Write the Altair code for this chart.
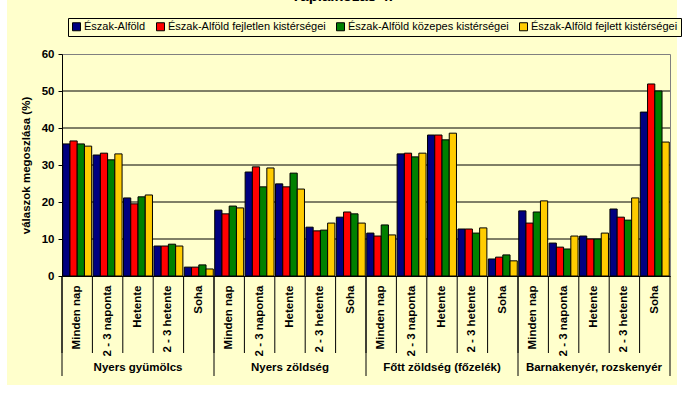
import altair as alt
import pandas as pd

groups = ["Nyers gyümölcs", "Nyers zöldség", "Főtt zöldség (főzelék)", "Barnakenyér, rozskenyér"]
freqs = ["Minden nap", "2 - 3 naponta", "Hetente", "2 - 3 hetente", "Soha"]
series = ["Észak-Alföld", "Észak-Alföld fejletlen kistérségei",
          "Észak-Alföld közepes kistérségei", "Észak-Alföld fejlett kistérségei"]
colors = ["#000080", "#FF0000", "#008000", "#FFCC00"]

blue = [35.7, 32.7, 21.1, 8.1, 2.4, 17.8, 28.1, 24.9, 13.2, 15.9,
        11.6, 33.0, 38.1, 12.7, 4.6, 17.6, 8.9, 10.8, 18.1, 44.3]
red = [36.5, 33.2, 19.5, 8.1, 2.4, 16.8, 29.5, 24.1, 12.2, 17.3,
       10.8, 33.2, 38.1, 12.7, 5.1, 14.3, 7.8, 10.0, 15.9, 51.9]
green = [35.7, 31.4, 21.4, 8.6, 3.0, 18.9, 24.1, 27.8, 12.4, 16.8,
         13.8, 32.2, 36.8, 11.6, 5.7, 17.3, 7.3, 10.0, 15.1, 50.0]
yellow = [35.1, 33.0, 21.9, 8.1, 1.9, 18.4, 29.2, 23.5, 14.3, 14.3,
          11.1, 33.2, 38.6, 13.0, 4.1, 20.3, 10.8, 11.6, 21.1, 36.2]

y_ticks = [0, 10, 20, 30, 40, 50, 60]
grid_vals = [10, 20, 30, 40, 50]
title_text = "Táplálkozás 4."
y_title = "válaszok megoszlása (%)"

FONT = "Liberation Sans"
BG = "#FFFFCC"
W, H = 608, 222

keys = [f"{gi}{fi}|{f}" for gi in range(len(groups)) for fi, f in enumerate(freqs)]
rows = []
for s, vals in zip(series, [blue, red, green, yellow]):
    for k, v in zip(keys, vals):
        rows.append({"key": k, "series": s, "value": v})
df = pd.DataFrame(rows)

one = pd.DataFrame({"a": [0]})

x_scale = alt.Scale(domain=keys, paddingInner=0, paddingOuter=0)
x_axis = alt.Axis(title=None, labelExpr="split(datum.label, '|')[1]",
                  labelAngle=270, labelAlign="right", labelBaseline="middle",
                  labelPadding=9, ticks=False, domainColor="black", zindex=1,
                  labelFont=FONT, labelFontSize=11.5, labelFontWeight="bold",
                  labelColor="black")
y_scale = alt.Scale(domain=[0, 60], nice=False)
y_axis = alt.Axis(values=y_ticks, title=y_title, grid=False, zindex=1,
                  domainColor="black", tickColor="black", tickSize=4,
                  labelPadding=4, labelFont=FONT, labelFontSize=11.5,
                  labelFontWeight="bold", labelColor="black",
                  titleFont=FONT, titleFontSize=11.5, titleFontWeight="bold",
                  titleColor="black", titlePadding=10)


def xenc(band=None):
    if band is None:
        return alt.X("key:N", scale=x_scale, axis=x_axis)
    return alt.X("key:N", scale=x_scale, axis=x_axis, bandPosition=band)


# white margins outside the yellow chart background
m_left = alt.Chart(one).mark_rect(fill="white").encode(
    x=alt.value(-62), x2=alt.value(-55), y=alt.value(-54), y2=alt.value(351))
m_right = alt.Chart(one).mark_rect(fill="white").encode(
    x=alt.value(615), x2=alt.value(628), y=alt.value(-54), y2=alt.value(351))
m_bottom = alt.Chart(one).mark_rect(fill="white").encode(
    x=alt.value(-62), x2=alt.value(628), y=alt.value(331), y2=alt.value(351))

grid = alt.Chart(pd.DataFrame({"v": grid_vals})).mark_rule(color="black", strokeWidth=1).encode(
    y=alt.Y("v:Q", scale=y_scale, axis=y_axis)
)

bars = alt.Chart(df).mark_bar(stroke="black", strokeWidth=1).encode(
    x=xenc(),
    xOffset=alt.XOffset("series:N", sort=series,
                        scale=alt.Scale(paddingInner=0, paddingOuter=0.1)),
    y=alt.Y("value:Q", scale=y_scale, axis=y_axis),
    color=alt.Color("series:N", sort=series,
                    scale=alt.Scale(domain=series, range=colors),
                    legend=alt.Legend(title=None, orient="none", legendX=6, legendY=-36,
                                      direction="horizontal", strokeColor="black",
                                      fillColor=BG, padding=3,
                                      symbolType="square", symbolSize=64,
                                      symbolStrokeColor="black", symbolStrokeWidth=1,
                                      labelFont=FONT, labelFontSize=11, labelColor="black",
                                      labelLimit=400, labelOffset=2, columnPadding=8)),
)

cat_rules = alt.Chart(pd.DataFrame({"key": keys})).mark_rule(color="black").encode(
    x=xenc(0), y=alt.value(H), y2=alt.value(299),
)

group_starts = [keys[i * len(freqs)] for i in range(len(groups))]
group_rules = alt.Chart(pd.DataFrame({"key": group_starts})).mark_rule(color="black").encode(
    x=xenc(0), y=alt.value(H), y2=alt.value(322),
)
end_rule = alt.Chart(pd.DataFrame({"key": [keys[-1]]})).mark_rule(color="black").encode(
    x=xenc(1), y=alt.value(H), y2=alt.value(322),
)

group_mid = [keys[i * len(freqs) + 2] for i in range(len(groups))]
group_labels = alt.Chart(pd.DataFrame({"key": group_mid, "label": groups})).mark_text(
    font=FONT, fontSize=11.5, fontWeight="bold", color="black", baseline="middle"
).encode(
    x=xenc(), y=alt.value(314), text="label:N",
)

title = alt.Chart(pd.DataFrame({"t": [title_text]})).mark_text(
    font=FONT, fontSize=15, fontWeight="bold", color="black", baseline="alphabetic"
).encode(x=alt.value(280), y=alt.value(-53.5), text="t:N")

chart = alt.layer(m_left, m_right, m_bottom, grid, bars, cat_rules, group_rules, end_rule,
                  group_labels, title).properties(
    width=W, height=H,
    autosize=alt.AutoSizeParams(type="none"),
    padding={"left": 62, "top": 54, "right": 20, "bottom": 129},
    background=BG,
).configure_view(stroke="#808080", strokeWidth=1)

chart.save("out.html", embed_options={"renderer": "svg", "actions": False})
